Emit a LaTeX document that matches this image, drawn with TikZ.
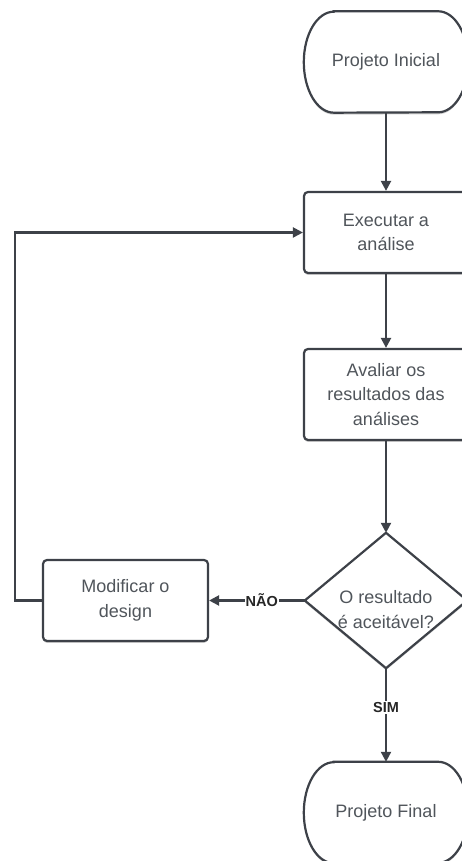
\documentclass[tikz,border=0pt]{standalone}
\usepackage{fontspec}
\setmainfont{Liberation Sans}
\usetikzlibrary{arrows.meta,shadows}
\definecolor{edge}{HTML}{3D4148}
\definecolor{txt}{HTML}{50555B}
\tikzset{
  x=1pt,y=1pt,
  boxtext/.style={align=center,text=txt,font=\fontsize{18}{24.5}\selectfont,inner sep=0pt},
  frame/.style={draw=edge,line width=2.2pt,fill=white,
    drop shadow={shadow xshift=0pt,shadow yshift=-2pt,opacity=0.18,fill=black}},
  stepbox/.style={boxtext,draw=edge,line width=2.2pt,fill=white,rounded corners=4pt,
    minimum width=164pt,
    drop shadow={shadow xshift=0pt,shadow yshift=-2pt,opacity=0.18,fill=black}},
  flow/.style={draw=edge,line width=2.2pt,-{Triangle[length=10pt,width=10pt]}},
  tag/.style={fill=white,inner sep=1pt,font=\fontsize{14.5}{16}\selectfont\bfseries,text=black!85}
}
\begin{document}
\begin{tikzpicture}
\useasboundingbox (0,0) rectangle (461,861);
\fill[white] (0,0) rectangle (461,861);

% start terminal
\node[boxtext,minimum width=164pt,minimum height=101pt] (ini) at (386,799) {};
\path[frame] ([xshift=30pt]ini.north west) -- ([xshift=-30pt]ini.north east)
  arc[start angle=90,end angle=-90,x radius=30pt,y radius=50.5pt]
  -- ([xshift=30pt]ini.south west)
  arc[start angle=270,end angle=90,x radius=30pt,y radius=50.5pt] -- cycle;
\node[boxtext] at (ini.center) {Projeto Inicial};

% process steps
\node[stepbox,minimum height=81pt] (exe) at (386,628.5) {Executar a\\análise};
\node[stepbox,minimum height=91pt] (ava) at (386,466.5) {Avaliar os\\resultados das\\análises};
\node[stepbox,minimum width=165pt,minimum height=81pt] (mod) at (125.5,260.5) {Modificar o\\design};

% decision
\node[boxtext,minimum width=162pt,minimum height=135pt] (dec) at (386,260.5) {};
\path[frame,line join=round] (dec.north) -- (dec.east) -- (dec.south) -- (dec.west) -- cycle;
\node[boxtext] at ([yshift=-9pt]dec.center) {O resultado\\é aceitável?};

% end terminal
\node[boxtext,minimum width=164pt,minimum height=101pt] (fim) at (386,48.5) {};
\path[frame] ([xshift=30pt]fim.north west) -- ([xshift=-30pt]fim.north east)
  arc[start angle=90,end angle=-90,x radius=30pt,y radius=50.5pt]
  -- ([xshift=30pt]fim.south west)
  arc[start angle=270,end angle=90,x radius=30pt,y radius=50.5pt] -- cycle;
\node[boxtext] at (fim.center) {Projeto Final};

% connectors
\draw[flow] (ini.south) -- (exe.north);
\draw[flow] (exe.south) -- (ava.north);
\draw[flow] (ava.south) -- (dec.north);
\draw[flow] (dec.west) -- node[tag,pos=0.45] {NÃO} (mod.east);
\draw[flow] (dec.south) -- node[tag,pos=0.42] {SIM} (fim.north);
\coordinate (bend) at (15,0);
\draw[flow] (mod.west) -| (bend |- exe.west) -- (exe.west);
\end{tikzpicture}
\end{document}
